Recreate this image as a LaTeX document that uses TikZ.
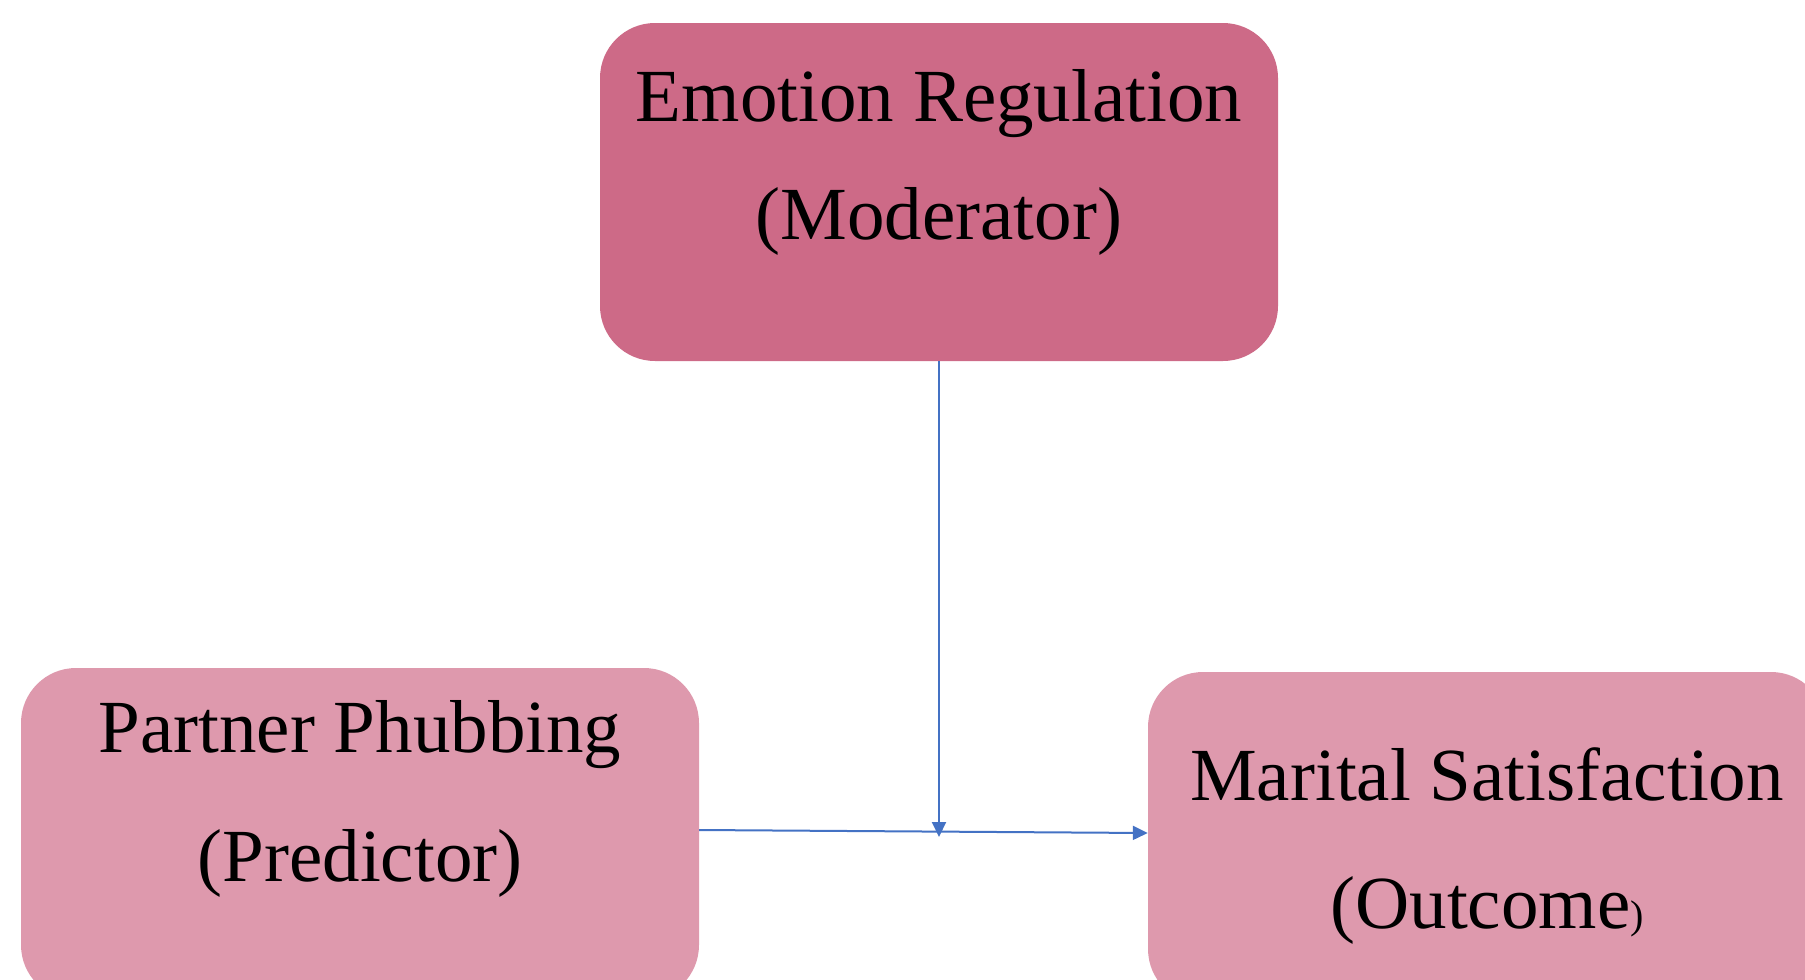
\documentclass[tikz,border=0pt]{standalone}
\usepackage{xcolor}
\usepackage{fontspec}
\setmainfont{Liberation Serif}
\usetikzlibrary{arrows.meta, positioning, calc}

\definecolor{modpink}{HTML}{CD6A87}
\definecolor{varpink}{HTML}{DE99AD}
\definecolor{linkblue}{HTML}{4472C4}

\begin{document}
\begin{tikzpicture}[
    x=1pt, y=-1pt,
    box/.style={rectangle, rounded corners=55pt, minimum width=678pt, minimum height=338pt, inner sep=0pt},
    boxtext/.style={anchor=base, inner sep=0pt, font=\fontsize{75}{90}\selectfont},
    arrowline/.style={draw=linkblue, line width=2pt, -{Triangle[length=15pt,width=14pt]}}
]
\useasboundingbox (0,0) rectangle (1805,980);

\node[box, fill=modpink] (mod) at (939,192) {};
\node[box, fill=varpink, minimum height=332pt] (pred) at (360,834) {};
\node[box, fill=varpink, minimum height=332pt] (out) at (1487,838) {};

\node[boxtext] (modname) at (939,121) {Emotion Regulation};
\node[boxtext] (modrole) at (939,239) {(Moderator)};
\node[boxtext] (predname) at (360,752) {Partner Phubbing};
\node[boxtext] (predrole) at (360,881) {(Predictor)};
\node[boxtext] (outname) at (1487,800) {Marital Satisfaction};
\node[boxtext] (outrole) at (1487,928) {(Outcome{\fontsize{40}{40}\selectfont )}};

\coordinate (meet) at (939,837);
\draw[arrowline] (mod.south) -- (meet);
\draw[arrowline] ([yshift=4pt]pred.east) -- ([yshift=5pt]out.west);
\end{tikzpicture}
\end{document}
